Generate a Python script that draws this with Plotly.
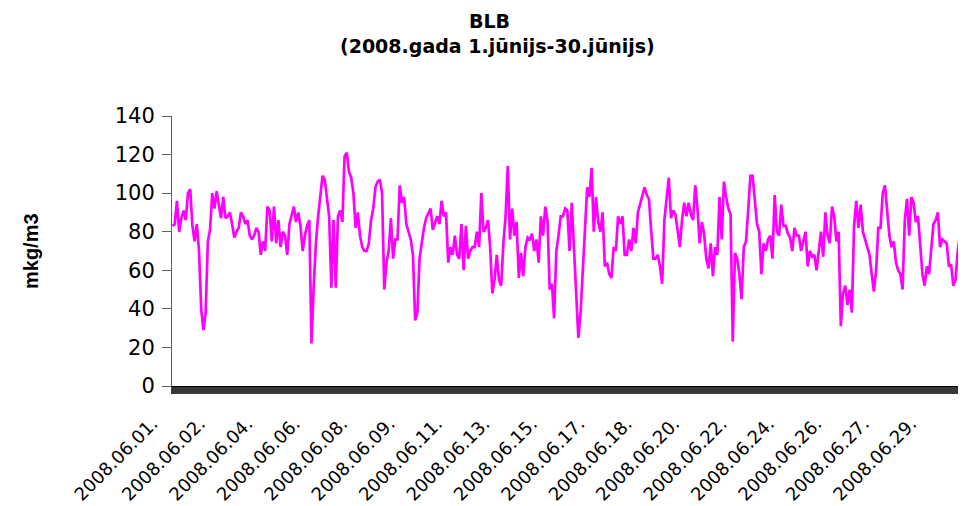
import plotly.graph_objects as go

# ---- text ----
title_line1 = "BLB"
title_line2 = "(2008.gada 1.jūnijs-30.jūnijs)"
y_title = "mkg/m3"
tick_labels = ["2008.06.01.", "2008.06.02.", "2008.06.04.", "2008.06.06.",
               "2008.06.08.", "2008.06.09.", "2008.06.11.", "2008.06.13.",
               "2008.06.15.", "2008.06.17.", "2008.06.18.", "2008.06.20.",
               "2008.06.22.", "2008.06.24.", "2008.06.26.", "2008.06.27.",
               "2008.06.29."]
label_every_hours = 43      # one date label every 43 hourly categories
step_hours = 2              # values read every 2 hours
y_ticks = [0, 20, 40, 60, 80, 100, 120, 140]

# ---- BLB concentration (mkg/m3), 2-hour steps ----
conc_01_04 = [83, 84, 96, 80, 87, 91, 86, 100, 102, 83, 75, 84, 70, 40, 29,
              38, 75, 81, 100, 92, 101, 95, 87, 98, 87, 88, 90, 84, 77, 80,
              82, 90, 88, 84, 86, 78, 76, 78, 82, 80, 68, 75, 70, 93, 91]
conc_04_08 = [75, 93, 74, 86, 72, 80, 78, 68, 84, 89, 93, 85, 90, 83, 70,
              78, 83, 86, 22, 52, 74, 88, 98, 109, 107, 97, 88, 51, 86, 51,
              88, 91, 85, 119, 121, 111, 108, 100, 82, 90, 78, 72, 70, 70, 74,
              86, 92, 103]
conc_08_12 = [106, 107, 100, 50, 64, 70, 87, 66, 76, 76, 104, 95, 98, 84, 80,
              76, 68, 34, 38, 66, 74, 82, 87, 90, 92, 81, 85, 88, 84, 96,
              88, 90, 64, 72, 68, 78, 68, 66, 84, 60, 83, 66, 70, 72, 72,
              80, 72]
conc_12_16 = [100, 80, 82, 86, 72, 48, 55, 68, 55, 52, 74, 88, 114, 76, 92,
              78, 85, 56, 69, 57, 72, 77, 76, 79, 70, 76, 64, 88, 78, 93,
              86, 50, 53, 35, 70, 78, 88, 88, 92, 91, 70, 95, 70, 50, 25,
              38, 60, 85]
conc_16_20 = [103, 98, 113, 80, 98, 85, 80, 90, 62, 64, 58, 56, 72, 70, 88,
              84, 88, 68, 68, 76, 70, 82, 74, 90, 94, 98, 103, 99, 97, 81,
              66, 66, 68, 62, 53, 86, 96, 108, 87, 91, 89, 79, 72, 86, 95,
              88, 95]
conc_20_24 = [89, 86, 104, 92, 74, 85, 79, 66, 61, 74, 57, 72, 68, 98, 76,
              106, 98, 92, 89, 23, 69, 66, 58, 45, 72, 75, 91, 109, 109, 95,
              84, 80, 58, 74, 70, 76, 78, 66, 99, 80, 78, 94, 83, 83, 79,
              77, 70, 82]
conc_24_28 = [78, 78, 70, 75, 80, 62, 70, 67, 68, 60, 70, 80, 67, 90, 78,
              74, 93, 88, 75, 80, 31, 48, 52, 42, 50, 38, 83, 96, 82, 94,
              80, 76, 72, 68, 58, 49, 60, 82, 82, 100, 104, 91, 78, 72, 75,
              64, 60, 58]
conc_28_30 = [50, 86, 97, 78, 98, 95, 85, 88, 72, 58, 52, 62, 58, 70, 84,
              86, 90, 72, 76, 75, 74, 62, 63, 52, 55, 70, 78, 82, 86]

values = (conc_01_04 + conc_04_08 + conc_08_12 + conc_12_16 +
          conc_16_20 + conc_20_24 + conc_24_28 + conc_28_30)
hours = [i * step_hours for i in range(len(values))]
total_hours = 720
tick_vals = [i * label_every_hours for i in range(len(tick_labels))]

# the page body has an 8px margin, so the figure is drawn 8px smaller
PAGE_OFFSET = 8
FIG_W, FIG_H = 966 - PAGE_OFFSET, 506 - PAGE_OFFSET
PLOT_L, PLOT_R, PLOT_T, PLOT_B = 172, 966, 116, 386   # in window pixels
PW, PH = PLOT_R - PLOT_L, PLOT_B - PLOT_T

Y_TICK_FONT = dict(family="DejaVu Sans", size=21, color="black")
X_TICK_FONT = dict(family="DejaVu Sans", size=18, color="black")
BAND_COLOR = "#383838"

fig = go.Figure()
fig.add_trace(go.Scatter(x=hours, y=values, mode="lines",
                         line=dict(color="#FF00FF", width=2.7),
                         hoverinfo="skip", showlegend=False))

fig.update_layout(
    width=FIG_W, height=FIG_H,
    margin=dict(l=PLOT_L - PAGE_OFFSET, r=966 - PLOT_R,
                t=PLOT_T - PAGE_OFFSET, b=506 - PLOT_B, pad=0,
                autoexpand=False),
    paper_bgcolor="white", plot_bgcolor="white",
    showlegend=False,
    xaxis=dict(
        range=[-0.5, total_hours - 0.5],
        showgrid=False, zeroline=False,
        showline=True, linecolor="black", linewidth=1,
        tickmode="array", tickvals=tick_vals, ticktext=tick_labels,
        tickangle=-45, tickfont=X_TICK_FONT,
        ticks="outside", ticklen=7, tickcolor=BAND_COLOR, tickwidth=2,
        ticklabelstandoff=12, ticklabelshift=-20,
        minor=dict(tick0=0.5, dtick=1, ticks="outside", ticklen=7,
                   tickcolor=BAND_COLOR, tickwidth=2, showgrid=False),
    ),
    yaxis=dict(
        range=[0, 140],
        tickmode="array", tickvals=y_ticks,
        showgrid=False, zeroline=False,
        showline=True, linecolor="#606060", linewidth=1,
        ticks="outside", ticklen=9, tickcolor="#606060", tickwidth=1,
        ticklabelstandoff=3,
        tickfont=Y_TICK_FONT,
    ),
    annotations=[
        dict(text="<b>" + title_line1 + "</b>", xref="paper", yref="paper",
             x=(489 - PLOT_L) / PW, y=1 + (PLOT_T - 21) / PH,
             xanchor="center", yanchor="middle", showarrow=False,
             font=dict(family="DejaVu Sans", size=19, color="black")),
        dict(text="<b>" + title_line2 + "</b>", xref="paper", yref="paper",
             x=(497 - PLOT_L) / PW, y=1 + (PLOT_T - 46) / PH,
             xanchor="center", yanchor="middle", showarrow=False,
             font=dict(family="DejaVu Sans", size=19, color="black")),
        dict(text="<b>" + y_title + "</b>", xref="paper", yref="paper",
             x=(31 - PLOT_L) / PW, y=0.5, textangle=-90,
             xanchor="center", yanchor="middle", showarrow=False,
             font=dict(family="Liberation Sans", size=20, color="black")),
    ],
)

fig.write_html("out.html")
